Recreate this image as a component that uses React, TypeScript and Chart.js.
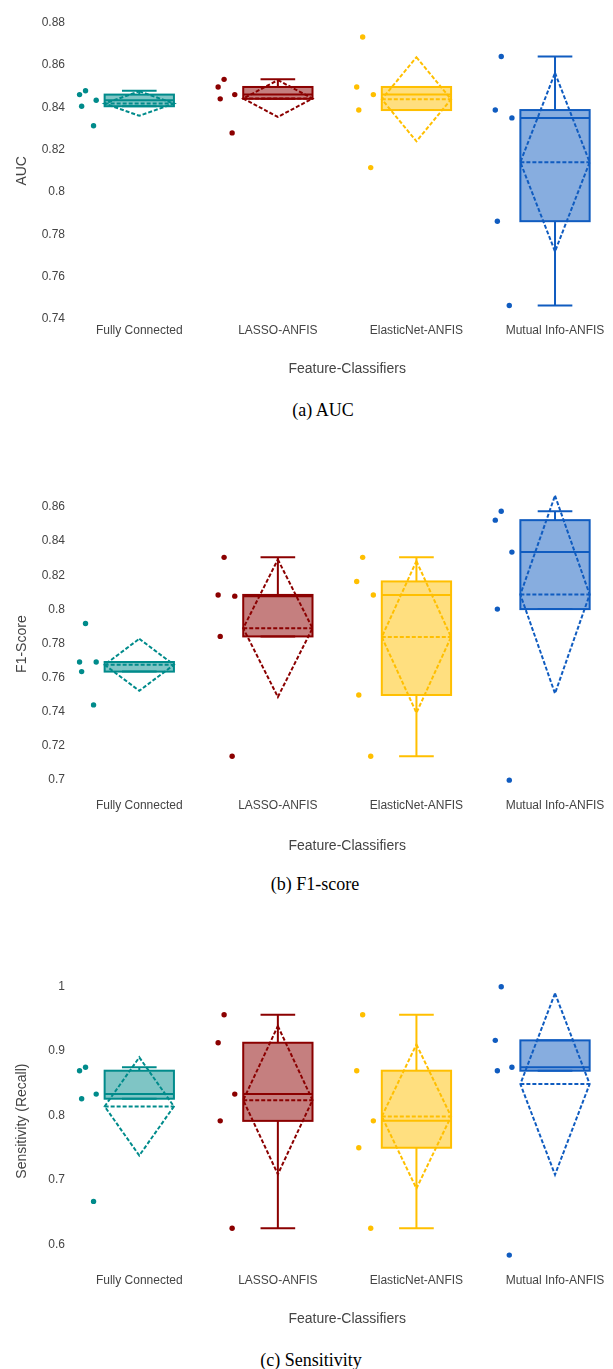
import React, { useEffect, useRef } from 'react';
import { Chart, registerables } from 'chart.js';

Chart.register(...registerables);

// ---------- data ----------
const CATEGORIES = ['Fully Connected', 'LASSO-ANFIS', 'ElasticNet-ANFIS', 'Mutual Info-ANFIS'];
const LINE_COLORS = ['#008B8B', '#8B0000', '#FFBF00', '#105CC0'];
const FILL_COLORS = ['rgba(0,139,139,0.5)', 'rgba(139,0,0,0.5)', 'rgba(255,191,0,0.5)', 'rgba(16,92,192,0.5)'];
// horizontal jitter of the five sample points (category units, left of the box)
const JITTER = [-0.431, -0.388, -0.416, -0.311, -0.33];

const AUC_FC = [0.846, 0.8478, 0.8405, 0.8433, 0.8313];
const AUC_LASSO = [0.8496, 0.8532, 0.844, 0.846, 0.8279];
const AUC_EN = [0.8496, 0.8732, 0.8387, 0.846, 0.8115];
const AUC_MI = [0.8387, 0.864, 0.7862, 0.835, 0.7464];

const F1_FC = [0.7692, 0.7918, 0.7636, 0.7692, 0.7441];
const F1_LASSO = [0.8085, 0.8305, 0.7842, 0.8078, 0.714];
const F1_EN = [0.8164, 0.8305, 0.7499, 0.8085, 0.714];
const F1_MI = [0.8523, 0.8575, 0.8002, 0.8336, 0.7];

const SENS_FC = [0.8696, 0.875, 0.8261, 0.8333, 0.6667];
const SENS_LASSO = [0.913, 0.9565, 0.7917, 0.8333, 0.625];
const SENS_EN = [0.8696, 0.9565, 0.75, 0.7917, 0.625];
const SENS_MI = [0.9167, 1.0, 0.8696, 0.875, 0.5833];

const AUC_TICKS = [0.74, 0.76, 0.78, 0.8, 0.82, 0.84, 0.86, 0.88];
const F1_TICKS = [0.7, 0.72, 0.74, 0.76, 0.78, 0.8, 0.82, 0.84, 0.86];
const SENS_TICKS = [0.6, 0.7, 0.8, 0.9, 1];

const X_TITLE = 'Feature-Classifiers';

// ---------- layout ----------
const FONT = "'Liberation Sans', Arial, Helvetica, sans-serif";
const CANVAS_W = 627;
const Y_AXIS_W = 70;
const BOX_HALF = 0.25;
const CAP_HALF = 0.125;

type PanelCfg = {
  yTitle: string;
  caption: string;
  groups: number[][];
  ticks: number[];
  yMin: number;
  yMax: number;
  top: number;
  height: number;
  plotTop: number;
  plotBottom: number;
  capX: number;
  capY: number;
};

const PANELS: PanelCfg[] = [
  {
    yTitle: 'AUC', caption: '(a) AUC', groups: [AUC_FC, AUC_LASSO, AUC_EN, AUC_MI], ticks: AUC_TICKS,
    yMin: 0.7398, yMax: 0.8802, top: 10, height: 368, plotTop: 17.6, plotBottom: 319.4, capX: 323, capY: 410,
  },
  {
    yTitle: 'F1-Score', caption: '(b) F1-score', groups: [F1_FC, F1_LASSO, F1_EN, F1_MI], ticks: F1_TICKS,
    yMin: 0.6919, yMax: 0.8675, top: 482, height: 373, plotTop: 490.3, plotBottom: 794, capX: 315, capY: 884,
  },
  {
    yTitle: 'Sensitivity (Recall)', caption: '(c) Sensitivity', groups: [SENS_FC, SENS_LASSO, SENS_EN, SENS_MI], ticks: SENS_TICKS,
    yMin: 0.5617, yMax: 1.021, top: 961, height: 367, plotTop: 969, plotBottom: 1269, capX: 311, capY: 1360,
  },
];

// ---------- statistics (plotly-style box) ----------
function quantile(sorted: number[], p: number) {
  const pos = (sorted.length - 1) * p;
  const lo = Math.floor(pos);
  const hi = Math.ceil(pos);
  return sorted[lo] + (sorted[hi] - sorted[lo]) * (pos - lo);
}

function boxStats(vals: number[]) {
  const s = [...vals].sort((a, b) => a - b);
  const q1 = quantile(s, 0.25);
  const med = quantile(s, 0.5);
  const q3 = quantile(s, 0.75);
  const iqr = q3 - q1;
  const inside = s.filter((v) => v >= q1 - 1.5 * iqr && v <= q3 + 1.5 * iqr);
  const lo = Math.min(q1, ...inside);
  const hi = Math.max(q3, ...inside);
  const mean = s.reduce((a, b) => a + b, 0) / s.length;
  const sd = Math.sqrt(s.reduce((a, b) => a + (b - mean) * (b - mean), 0) / s.length);
  return { q1, med, q3, lo, hi, mean, sd };
}

function Panel({ cfg }: { cfg: PanelCfg }) {
  const ref = useRef<HTMLCanvasElement>(null);
  useEffect(() => {
    const canvas = ref.current!;
    const padTop = cfg.plotTop - cfg.top;
    const xAxisH = cfg.top + cfg.height - cfg.plotBottom;

    const boxPlugin = {
      id: 'boxes',
      beforeDatasetsDraw(chart: any) {
        const ctx = chart.ctx as CanvasRenderingContext2D;
        const xs = chart.scales.x;
        const ys = chart.scales.y;
        const area = chart.chartArea;
        ctx.save();
        ctx.beginPath();
        ctx.rect(area.left, area.top, area.right - area.left, area.bottom - area.top);
        ctx.clip();
        const line = (x1: number, y1: number, x2: number, y2: number) => {
          ctx.beginPath();
          ctx.moveTo(x1, y1);
          ctx.lineTo(x2, y2);
          ctx.stroke();
        };
        cfg.groups.forEach((vals, i) => {
          const st = boxStats(vals);
          const X = (v: number) => xs.getPixelForValue(v);
          const Y = (v: number) => ys.getPixelForValue(v);
          const cx = X(i);
          const l = X(i - BOX_HALF);
          const r = X(i + BOX_HALF);
          const cl = X(i - CAP_HALF);
          const cr = X(i + CAP_HALF);
          ctx.lineWidth = 2;
          ctx.lineJoin = 'miter';
          ctx.strokeStyle = LINE_COLORS[i];
          ctx.setLineDash([]);
          ctx.fillStyle = FILL_COLORS[i];
          ctx.fillRect(l, Y(st.q3), r - l, Y(st.q1) - Y(st.q3));
          ctx.strokeRect(l, Y(st.q3), r - l, Y(st.q1) - Y(st.q3));
          line(l, Y(st.med), r, Y(st.med));
          line(cx, Y(st.q3), cx, Y(st.hi));
          line(cl, Y(st.hi), cr, Y(st.hi));
          line(cx, Y(st.q1), cx, Y(st.lo));
          line(cl, Y(st.lo), cr, Y(st.lo));
          // mean line and standard deviation diamond
          ctx.setLineDash([4, 2]);
          line(l, Y(st.mean), r, Y(st.mean));
          ctx.beginPath();
          ctx.moveTo(cx, Y(st.mean + st.sd));
          ctx.lineTo(r, Y(st.mean));
          ctx.lineTo(cx, Y(st.mean - st.sd));
          ctx.lineTo(l, Y(st.mean));
          ctx.closePath();
          ctx.stroke();
        });
        ctx.restore();
      },
    };

    const chart = new Chart(canvas, {
      type: 'scatter',
      data: {
        datasets: cfg.groups.map((vals, i) => ({
          label: CATEGORIES[i],
          data: vals.map((v, j) => ({ x: i + JITTER[j], y: v })),
          backgroundColor: LINE_COLORS[i],
          borderColor: LINE_COLORS[i],
          borderWidth: 0,
          pointRadius: 2.7,
          pointHoverRadius: 2.7,
        })),
      },
      options: {
        responsive: false,
        maintainAspectRatio: false,
        animation: false,
        devicePixelRatio: 1,
        events: [],
        layout: { padding: { top: padTop, right: 0, bottom: 0, left: 0 } },
        plugins: { legend: { display: false }, tooltip: { enabled: false } },
        scales: {
          x: {
            type: 'linear',
            min: -0.5,
            max: 3.5,
            grid: { display: false, drawTicks: false },
            border: { display: false },
            afterBuildTicks: (s: any) => {
              s.ticks = CATEGORIES.map((_, i) => ({ value: i }));
            },
            afterFit: (s: any) => {
              s.height = xAxisH;
            },
            ticks: {
              callback: (v: any) => CATEGORIES[v] ?? '',
              padding: 4,
              autoSkip: false,
              maxRotation: 0,
              color: '#444',
              font: { family: FONT, size: 12 },
            },
            title: {
              display: true,
              text: X_TITLE,
              color: '#444',
              font: { family: FONT, size: 14 },
              padding: { top: 0, bottom: 0 },
            },
          },
          y: {
            type: 'linear',
            min: cfg.yMin,
            max: cfg.yMax,
            grid: { display: false, drawTicks: false },
            border: { display: false },
            afterBuildTicks: (s: any) => {
              s.ticks = cfg.ticks.map((v) => ({ value: v }));
            },
            afterFit: (s: any) => {
              s.width = Y_AXIS_W;
            },
            ticks: {
              callback: (v: any) => String(Math.round(Number(v) * 100) / 100),
              padding: 5,
              color: '#444',
              font: { family: FONT, size: 12 },
            },
            title: {
              display: true,
              text: cfg.yTitle,
              color: '#444',
              font: { family: FONT, size: 14 },
              padding: { top: 14, bottom: 0 },
            },
          },
        },
      },
      plugins: [boxPlugin],
    } as any);
    return () => chart.destroy();
  }, [cfg]);

  return (
    <>
      <canvas
        ref={ref}
        width={CANVAS_W}
        height={cfg.height}
        style={{ position: 'absolute', left: 0, top: cfg.top, width: CANVAS_W, height: cfg.height }}
      />
      <div
        style={{
          position: 'absolute',
          left: cfg.capX,
          top: cfg.capY,
          transform: 'translate(-50%, -50%)',
          fontFamily: "'Liberation Serif', 'Times New Roman', serif",
          fontSize: 18,
          color: '#000',
          whiteSpace: 'nowrap',
          lineHeight: 1,
        }}
      >
        {cfg.caption}
      </div>
    </>
  );
}

export default function App() {
  useEffect(() => {
    document.body.style.margin = '0';
    document.body.style.background = '#fff';
  }, []);
  return (
    <div style={{ position: 'relative', width: 613, height: 1369, overflow: 'hidden', background: '#fff' }}>
      {PANELS.map((p, k) => (
        <Panel key={k} cfg={p} />
      ))}
    </div>
  );
}
